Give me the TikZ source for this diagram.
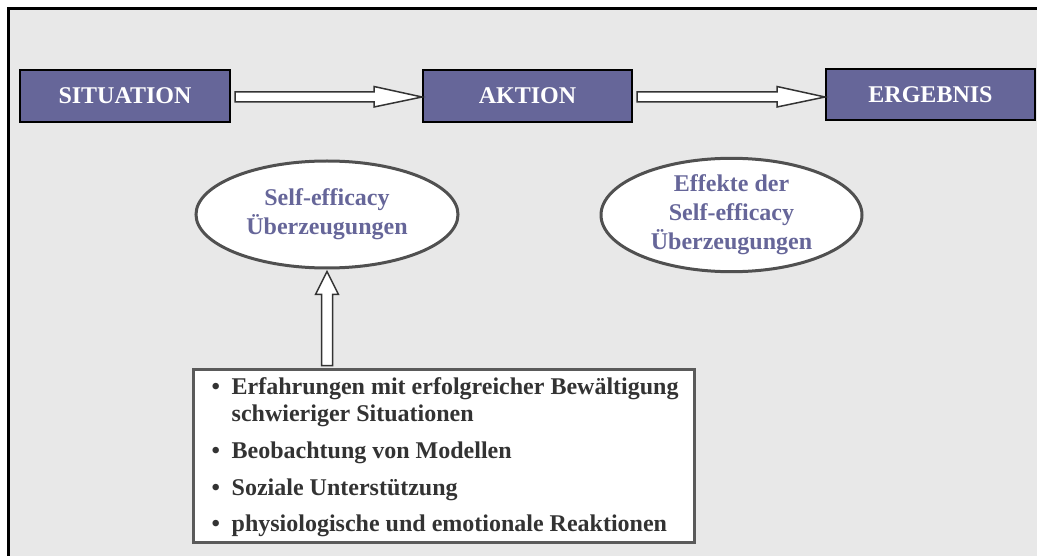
\documentclass[tikz,border=0pt]{standalone}
\usepackage{fontspec}
\setmainfont{Liberation Serif}
\usetikzlibrary{calc,shapes.geometric}
\definecolor{boxpurple}{HTML}{666699}
\definecolor{bggray}{HTML}{E8E8E8}
\definecolor{ellborder}{HTML}{505050}
\definecolor{listtext}{HTML}{333333}
\definecolor{listborder}{HTML}{5A5A5A}
\definecolor{arrowborder}{HTML}{333333}
\tikzset{
  stagebox/.style={rectangle, draw=black, line width=2pt, fill=boxpurple,
    text=white, font=\fontsize{24}{29}\selectfont\bfseries, inner sep=0pt},
  beliefell/.style={ellipse, draw=ellborder, line width=3pt, fill=white,
    text=boxpurple, align=center, inner sep=0pt,
    font=\fontsize{24}{29}\selectfont\bfseries},
  listbox/.style={rectangle, draw=listborder, line width=3pt, fill=white,
    inner sep=0pt, minimum width=501pt, minimum height=173pt},
  listline/.style={anchor=base west, inner sep=0pt, text=listtext,
    font=\fontsize{24}{29}\selectfont\bfseries},
  blockarrow/.style={draw=arrowborder, line width=1.5pt, fill=white, line join=miter},
}
\begin{document}
\begin{tikzpicture}[x=1pt,y=-1pt]
\useasboundingbox (0,0) rectangle (1037,556);
% background
\fill[bggray] (8,9) rectangle (1037,556);
\draw[black, line width=3pt] (8,556) -- (8,9) -- (1037,9);

% stage boxes
\node[stagebox, minimum width=210pt, minimum height=52pt] (sit) at (125,96) {SITUATION};
\node[stagebox, minimum width=209pt, minimum height=52pt] (akt) at (527.5,96) {AKTION};
\node[stagebox, minimum width=209pt, minimum height=51pt] (erg) at (930.5,95) {ERGEBNIS};

% ellipses
\node[beliefell, minimum width=262pt, minimum height=107pt] (se) at (327,214.5) {Self-efficacy\\Überzeugungen};
\node[beliefell, minimum width=261pt, minimum height=106pt] (eff) at (731.5,215) {Effekte der\\Self-efficacy\\Überzeugungen};

% list box
\node[listbox] (list) at (443.5,455.5) {};
\coordinate (bul) at ($(list.north west)+(20,0)$);
\coordinate (txt) at ($(list.north west)+(40,0)$);
\node[listline] (b1) at ($(bul)+(0,27)$) {•};
\node[listline] (l1) at ($(txt)+(0,27)$) {Erfahrungen mit erfolgreicher Bewältigung};
\node[listline] (l1b) at ($(txt)+(0,54)$) {schwieriger Situationen};
\node[listline] (b2) at ($(bul)+(0,91)$) {•};
\node[listline] (l2) at ($(txt)+(0,91)$) {Beobachtung von Modellen};
\node[listline] (b3) at ($(bul)+(0,128)$) {•};
\node[listline] (l3) at ($(txt)+(0,128)$) {Soziale Unterstützung};
\node[listline] (b4) at ($(bul)+(0,164)$) {•};
\node[listline] (l4) at ($(txt)+(0,164)$) {physiologische und emotionale Reaktionen};

% block arrows
\draw[blockarrow] ($(sit.east)+(4,-4)$) -- ($(akt.west)+(-48,-4)$) -- ($(akt.west)+(-48,-9.5)$)
  -- ($(akt.west)+(0,1)$) -- ($(akt.west)+(-48,11)$) -- ($(akt.west)+(-48,6)$)
  -- ($(sit.east)+(4,6)$) -- cycle;
\draw[blockarrow] ($(akt.east)+(4,-4)$) -- ($(erg.west)+(-48,-3)$) -- ($(erg.west)+(-48,-8.5)$)
  -- ($(erg.west)+(0,2)$) -- ($(erg.west)+(-48,12)$) -- ($(erg.west)+(-48,7)$)
  -- ($(akt.east)+(4,6)$) -- cycle;
\coordinate (vbot) at (list.north -| se.south);
\draw[blockarrow] ($(vbot)+(-5.5,-2)$) -- ($(se.south)+(-5.5,25)$) -- ($(se.south)+(-11.5,25)$)
  -- ($(se.south)+(0,2)$) -- ($(se.south)+(11.5,25)$) -- ($(se.south)+(5.5,25)$)
  -- ($(vbot)+(5.5,-2)$) -- cycle;
\end{tikzpicture}
\end{document}
